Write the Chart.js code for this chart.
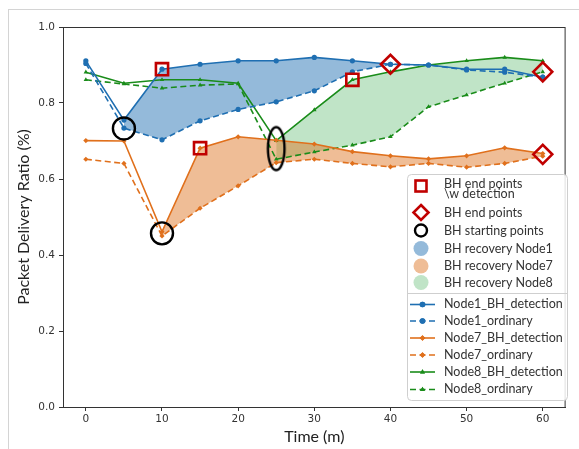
<!DOCTYPE html>
<html>
<head>
<meta charset="utf-8">
<script src="https://cdn.jsdelivr.net/npm/chart.js@4.4.1/dist/chart.umd.min.js"></script>
<style>
  html, body { margin: 0; padding: 0; background: #fff; }
  #wrap { width: 579px; height: 449px; }
</style>
</head>
<body>
<div id="wrap"><canvas id="chart" width="579" height="449"></canvas></div>
<script>
// time axis (minutes)
const times = [0, 5, 10, 15, 20, 25, 30, 35, 40, 45, 50, 55, 60];

// packet delivery ratio per node
const node1Det = [0.911, 0.755, 0.889, 0.902, 0.911, 0.911, 0.920, 0.911, 0.902, 0.900, 0.889, 0.889, 0.868];
const node1Ord = [0.904, 0.734, 0.703, 0.753, 0.783, 0.803, 0.832, 0.882, 0.902, 0.900, 0.887, 0.881, 0.868];
const node7Det = [0.701, 0.700, 0.461, 0.681, 0.711, 0.702, 0.692, 0.672, 0.661, 0.653, 0.661, 0.682, 0.667];
const node7Ord = [0.652, 0.641, 0.450, 0.523, 0.582, 0.643, 0.652, 0.641, 0.632, 0.641, 0.631, 0.641, 0.660];
const node8Det = [0.881, 0.852, 0.861, 0.861, 0.852, 0.701, 0.782, 0.861, 0.882, 0.900, 0.911, 0.920, 0.911];
const node8Ord = [0.861, 0.850, 0.839, 0.847, 0.850, 0.652, 0.671, 0.689, 0.711, 0.790, 0.821, 0.852, 0.882];

// recovery windows (index ranges into times)
const recovery1 = [1, 8];
const recovery7 = [2, 12];
const recovery8 = [5, 12];

// annotation markers
const endDetX = [10, 15, 35];
const endDetY = [0.889, 0.681, 0.861];
const endX = [40, 60, 60];
const endY = [0.902, 0.882, 0.665];
const startX = [5, 10, 25];
const startY = [0.733, 0.457, 0.68];

const xTicks = [0, 10, 20, 30, 40, 50, 60];
const yTicks = [0, 0.2, 0.4, 0.6, 0.8, 1.0];

const BLUE = '#1f6fb2', ORANGE = '#e0701c', GREEN = '#1a8c1a', RED = '#c00000';
const FILL_B = 'rgba(31,111,178,0.48)', FILL_O = 'rgba(222,118,36,0.48)', FILL_G = 'rgba(60,170,80,0.32)';
const UI_FONT = 'Lato, "Open Sans", sans-serif';

const pts = (ys, r) => {
  const out = [];
  for (let i = (r ? r[0] : 0); i <= (r ? r[1] : ys.length - 1); i++) out.push({ x: times[i], y: ys[i] });
  return out;
};
const zip = (xs, ys) => xs.map((x, i) => ({ x: x, y: ys[i] }));

// tall ellipse marker for the 25 min start point
const ellipse = document.createElement('canvas');
ellipse.width = 22; ellipse.height = 48;
(function () {
  const c = ellipse.getContext('2d');
  c.lineWidth = 2.4; c.strokeStyle = '#000';
  c.beginPath(); c.ellipse(11, 24, 8.3, 21.5, 0, 0, Math.PI * 2); c.stroke();
})();

function fillPair(ys1, ys2, range, color, targetIdx) {
  return [
    { data: pts(ys1, range), borderWidth: 0, pointRadius: 0, fill: { target: targetIdx }, backgroundColor: color, order: 3 },
    { data: pts(ys2, range), borderWidth: 0, pointRadius: 0, fill: false, order: 3 }
  ];
}
function line(ys, color, dashed, style) {
  return { data: pts(ys), borderColor: color, backgroundColor: color, borderWidth: 1.6,
    borderDash: dashed ? [6, 3.5] : [], pointStyle: style, pointRadius: 2.6, pointBorderWidth: 0,
    fill: false, tension: 0, order: 2 };
}

const datasets = [
  ...fillPair(node1Det, node1Ord, recovery1, FILL_B, 1),
  ...fillPair(node7Det, node7Ord, recovery7, FILL_O, 3),
  ...fillPair(node8Det, node8Ord, recovery8, FILL_G, 5),
  line(node1Det, BLUE, false, 'circle'),
  line(node1Ord, BLUE, true, 'circle'),
  line(node7Det, ORANGE, false, 'rectRot'),
  line(node7Ord, ORANGE, true, 'rectRot'),
  line(node8Det, GREEN, false, 'triangle'),
  line(node8Ord, GREEN, true, 'triangle'),
  { data: zip(endDetX, endDetY), showLine: false, pointStyle: 'rect', pointRadius: 8.6,
    pointBorderColor: RED, pointBorderWidth: 2.6, pointBackgroundColor: 'rgba(0,0,0,0)', order: 1 },
  { data: zip(endX, endY), showLine: false, pointStyle: 'rectRot', pointRadius: 9.5,
    pointBorderColor: RED, pointBorderWidth: 2.6, pointBackgroundColor: 'rgba(0,0,0,0)', order: 1 },
  { data: zip(startX, startY), showLine: false, pointStyle: ['circle', 'circle', ellipse], pointRadius: 11,
    pointBorderColor: '#000', pointBorderWidth: 2.4, pointBackgroundColor: 'rgba(0,0,0,0)', order: 1 }
];

const legendTop = [
  { kind: 'square', label: ['BH end points', '\\w detection'] },
  { kind: 'diamond', label: ['BH end points'] },
  { kind: 'circle', label: ['BH starting points'] },
  { kind: 'patch', color: FILL_B, label: ['BH recovery Node1'] },
  { kind: 'patch', color: FILL_O, label: ['BH recovery Node7'] },
  { kind: 'patch', color: FILL_G, label: ['BH recovery Node8'] }
];
const legendBottom = [
  { color: BLUE, dash: false, style: 'circle', label: 'Node1_BH_detection' },
  { color: BLUE, dash: true, style: 'circle', label: 'Node1_ordinary' },
  { color: ORANGE, dash: false, style: 'rectRot', label: 'Node7_BH_detection' },
  { color: ORANGE, dash: true, style: 'rectRot', label: 'Node7_ordinary' },
  { color: GREEN, dash: false, style: 'triangle', label: 'Node8_BH_detection' },
  { color: GREEN, dash: true, style: 'triangle', label: 'Node8_ordinary' }
];

const framePlugin = {
  id: 'frame',
  beforeDraw(chart) {
    const c = chart.ctx;
    c.save();
    c.strokeStyle = '#d4d4d4'; c.lineWidth = 1;
    c.strokeRect(8.5, 9.5, 700, 700);
    c.restore();
  },
  afterDraw(chart) {
    const c = chart.ctx, a = chart.chartArea;
    c.save();
    c.strokeStyle = '#333'; c.lineWidth = 1;
    c.strokeRect(a.left + 0.5, a.top + 0.5, a.right - a.left - 1, a.bottom - a.top);

    // legend box
    const L = 407, T = 174, W = 160, H = 226;
    c.fillStyle = 'rgba(255,255,255,0.85)';
    c.strokeStyle = '#cfcfcf';
    c.beginPath(); c.roundRect(L + 0.5, T + 0.5, W, H, 4); c.fill(); c.stroke();
    c.beginPath(); c.moveTo(L + 0.5, 293.5); c.lineTo(L + W + 0.5, 293.5); c.stroke();

    c.font = '12.5px ' + UI_FONT;
    c.fillStyle = '#333';
    c.textBaseline = 'middle';
    const mx = 421, tx = 444;
    const topY = [186, 212.5, 230.5, 248.5, 266, 282.5];
    legendTop.forEach((e, i) => {
      const y = topY[i];
      c.save();
      if (e.kind === 'square') {
        c.strokeStyle = RED; c.lineWidth = 2.6; c.strokeRect(mx - 5.5, y - 5.5, 11, 11);
      } else if (e.kind === 'diamond') {
        c.strokeStyle = RED; c.lineWidth = 2.6;
        c.beginPath(); c.moveTo(mx, y - 7.5); c.lineTo(mx + 7.5, y); c.lineTo(mx, y + 7.5); c.lineTo(mx - 7.5, y); c.closePath(); c.stroke();
      } else if (e.kind === 'circle') {
        c.strokeStyle = '#000'; c.lineWidth = 2.4;
        c.beginPath(); c.arc(mx, y, 6, 0, Math.PI * 2); c.stroke();
      } else {
        c.fillStyle = e.color;
        c.beginPath(); c.arc(mx, y, 7.5, 0, Math.PI * 2); c.fill();
      }
      c.restore();
      if (e.label.length === 2) {
        c.fillText(e.label[0], tx, y - 2);
        c.fillText(e.label[1], tx, y + 8);
      } else {
        c.fillText(e.label[0], tx, y);
      }
    });

    const botY = [304, 320.5, 337.5, 354.5, 371.5, 389];
    legendBottom.forEach((e, i) => {
      const y = botY[i];
      c.save();
      c.strokeStyle = e.color; c.fillStyle = e.color; c.lineWidth = 1.6;
      c.setLineDash(e.dash ? [6, 3.5] : []);
      c.beginPath(); c.moveTo(410, y + 0.5); c.lineTo(435, y + 0.5); c.stroke();
      c.setLineDash([]);
      Chart.helpers.drawPoint(c, { pointStyle: e.style, radius: 2.8, borderWidth: 0 }, 422.5, y + 0.5);
      c.fill();
      c.restore();
      c.fillText(e.label, tx, y);
    });
    c.restore();
  }
};

new Chart(document.getElementById('chart'), {
  type: 'line',
  data: { datasets: datasets },
  plugins: [framePlugin],
  options: {
    responsive: false,
    animation: false,
    events: [],
    layout: { padding: { left: 0, top: 27, right: 6, bottom: 0 } },
    plugins: { legend: { display: false }, tooltip: { enabled: false } },
    scales: {
      x: {
        type: 'linear', min: -3, max: 63,
        afterBuildTicks: s => { s.ticks = xTicks.map(v => ({ value: v })); },
        afterFit: s => { s.height = 42; },
        grid: { drawOnChartArea: false, tickLength: 4, tickColor: '#333' },
        border: { color: '#333' },
        ticks: { color: '#333', padding: 2, font: { family: 'DejaVu Sans', size: 10.5 }, maxRotation: 0 },
        title: { display: true, text: 'Time (m)', color: '#222', font: { family: UI_FONT, size: 16 }, padding: { top: 0, bottom: 3 } }
      },
      y: {
        min: 0, max: 1,
        afterBuildTicks: s => { s.ticks = yTicks.map(v => ({ value: v })); },
        afterFit: s => { s.width = 63; },
        grid: { drawOnChartArea: false, tickLength: 4, tickColor: '#333' },
        border: { color: '#333' },
        ticks: { color: '#333', padding: 4, font: { family: 'DejaVu Sans', size: 10.5 }, callback: v => v.toFixed(1) },
        title: { display: true, text: 'Packet Delivery Ratio (%)', color: '#222', font: { family: UI_FONT, size: 16 }, padding: { top: 14, bottom: 0 } }
      }
    }
  }
});
</script>
</body>
</html>
